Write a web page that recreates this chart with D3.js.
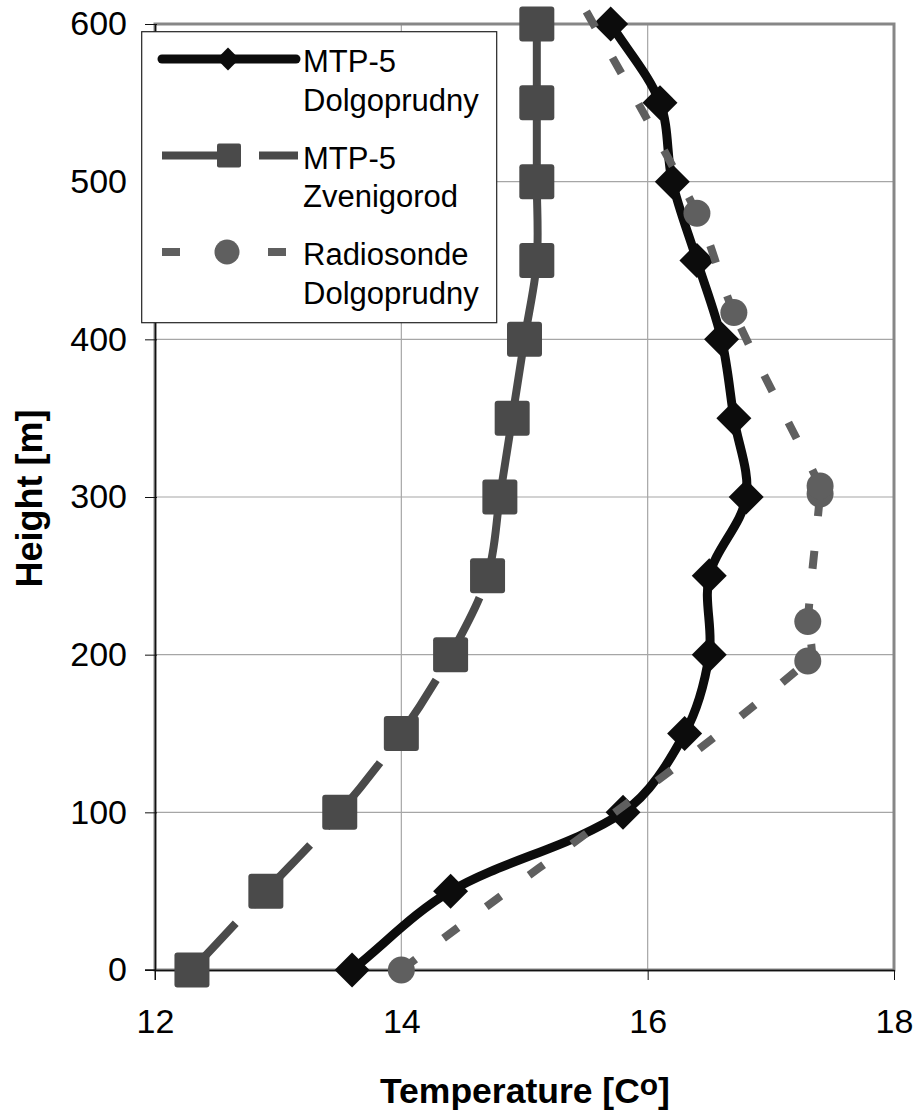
<!DOCTYPE html>
<html>
<head>
<meta charset="utf-8">
<script src="https://cdn.jsdelivr.net/npm/d3@7"></script>
<style>
  body { margin: 0; background: #fff; }
  svg text { font-family: "Liberation Sans", Arial, sans-serif; fill: #000; }
</style>
</head>
<body>
<div id="chart"></div>
<script>
// heights of the MTP-5 profiles [m]
const heights = [0, 50, 100, 150, 200, 250, 300, 350, 400, 450, 500, 550, 600];
// MTP-5 Dolgoprudny temperature [C]
const dolgoTemp = [13.6, 14.4, 15.8, 16.3, 16.5, 16.5, 16.8, 16.7, 16.6, 16.4, 16.2, 16.1, 15.7];
// MTP-5 Zvenigorod temperature [C]
const zvenTemp = [12.3, 12.9, 13.5, 14.0, 14.4, 14.7, 14.8, 14.9, 15.0, 15.1, 15.1, 15.1, 15.1];
// radiosonde Dolgoprudny (own levels)
const radioHeight = [0, 196, 221, 302, 307, 417, 480, 650];
const radioTemp = [14.0, 17.3, 17.3, 17.4, 17.4, 16.7, 16.4, 15.2];

const xTicks = [12, 14, 16, 18];
const yTicks = [0, 100, 200, 300, 400, 500, 600];
const legendNames = [["MTP-5", "Dolgoprudny"], ["MTP-5", "Zvenigorod"], ["Radiosonde", "Dolgoprudny"]];

const W = 917, H = 1116;
const margin = {top: 24, right: 23, bottom: 146, left: 155};
const width = W - margin.left - margin.right,
      height = H - margin.top - margin.bottom;

const svg = d3.select("#chart")
  .append("svg")
    .attr("width", W)
    .attr("height", H);

const g = svg.append("g")
    .attr("transform", `translate(${margin.left}, ${margin.top})`);

const x = d3.scaleLinear().domain([12, 18]).range([0, width]);
const y = d3.scaleLinear().domain([0, 600]).range([height, 0]);

// grid lines
g.append("g")
  .selectAll("line")
  .data(xTicks.slice(1, -1))
  .join("line")
    .attr("x1", d => x(d)).attr("x2", d => x(d))
    .attr("y1", 0).attr("y2", height)
    .attr("stroke", "#a6a6a6").attr("stroke-width", 1.2);

g.append("g")
  .selectAll("line")
  .data(yTicks.slice(1, -1))
  .join("line")
    .attr("x1", 0).attr("x2", width)
    .attr("y1", d => y(d)).attr("y2", d => y(d))
    .attr("stroke", "#a6a6a6").attr("stroke-width", 1.2);

// plot area frame
g.append("rect")
  .attr("width", width).attr("height", height)
  .attr("fill", "none")
  .attr("stroke", "#878787")
  .attr("stroke-width", 3);

// axes
const yAxis = g.append("g")
  .call(d3.axisLeft(y).tickValues(yTicks).tickFormat(d3.format("d"))
    .tickSize(10).tickSizeOuter(0).tickPadding(18));
yAxis.select(".domain").attr("stroke", "#111").attr("stroke-width", 1.5);
yAxis.selectAll(".tick line").attr("x2", -10).attr("x1", 2).attr("stroke", "#111");
yAxis.selectAll(".tick text").style("font-size", "34px");

const xAxis = g.append("g")
  .attr("transform", `translate(0, ${height})`)
  .call(d3.axisBottom(x).tickValues(xTicks).tickFormat(d3.format("d"))
    .tickSize(10).tickSizeOuter(0).tickPadding(29));
xAxis.select(".domain").attr("stroke", "#111").attr("stroke-width", 1.5);
xAxis.selectAll(".tick line").attr("stroke", "#111");
xAxis.selectAll(".tick text").style("font-size", "34px");
// the y axis line runs down to the tick row, the x axis left to the y ticks
g.append("line").attr("x1", 0).attr("x2", 0).attr("y1", height).attr("y2", height + 10).attr("stroke", "#111");
g.append("line").attr("x1", -10).attr("x2", 0).attr("y1", height).attr("y2", height).attr("stroke", "#111").attr("stroke-width", 1.5);

// smooth (Excel-like) curve, one path per segment so dashes restart at each point;
// tangents are scaled by chord length so short segments do not overshoot
function segments(pts) {
  const dist = (a, b) => Math.hypot(b[0] - a[0], b[1] - a[1]);
  const out = [];
  for (let i = 0; i < pts.length - 1; i++) {
    const p0 = pts[i - 1] || pts[i], p1 = pts[i], p2 = pts[i + 1], p3 = pts[i + 2] || pts[i + 1];
    const d01 = dist(p0, p1), d12 = dist(p1, p2), d23 = dist(p2, p3);
    const k1 = d12 / ((d01 + d12) || 1) / 3;
    const k2 = d12 / ((d12 + d23) || 1) / 3;
    const p = d3.path();
    p.moveTo(p1[0], p1[1]);
    p.bezierCurveTo(
      p1[0] + (p2[0] - p0[0]) * k1, p1[1] + (p2[1] - p0[1]) * k1,
      p2[0] - (p3[0] - p1[0]) * k2, p2[1] - (p3[1] - p1[1]) * k2,
      p2[0], p2[1]);
    out.push(p.toString());
  }
  return out;
}

const dolgoPts = heights.map((h, i) => [x(dolgoTemp[i]), y(h)]);
const zvenPts = heights.map((h, i) => [x(zvenTemp[i]), y(h)]);
const radioPts = radioHeight.map((h, i) => [x(radioTemp[i]), y(h)]);

// MTP-5 Dolgoprudny
g.append("path")
  .attr("d", segments(dolgoPts).join(""))
  .attr("fill", "none")
  .attr("stroke", "#0c0c0c")
  .attr("stroke-width", 9)
  .attr("stroke-linejoin", "round");

g.append("g")
  .selectAll("path")
  .data(dolgoPts)
  .join("path")
    .attr("d", d3.symbol(d3.symbolSquare, 612)())
    .attr("transform", d => `translate(${d[0]}, ${d[1]}) rotate(45)`)
    .attr("fill", "#0c0c0c");

// MTP-5 Zvenigorod
g.append("g")
  .selectAll("path")
  .data(segments(zvenPts))
  .join("path")
    .attr("d", d => d)
    .attr("fill", "none")
    .attr("stroke", "#4a4a4a")
    .attr("stroke-width", 8)
    .attr("stroke-dasharray", "64,24");

g.append("g")
  .selectAll("rect")
  .data(zvenPts)
  .join("rect")
    .attr("x", d => d[0] - 17.5)
    .attr("y", d => d[1] - 17.5)
    .attr("width", 35).attr("height", 35)
    .attr("rx", 3)
    .attr("fill", "#4a4a4a");

// Radiosonde Dolgoprudny
g.append("g")
  .selectAll("path")
  .data(segments(radioPts))
  .join("path")
    .attr("d", d => d)
    .attr("fill", "none")
    .attr("stroke", "#5f5f5f")
    .attr("stroke-width", 8)
    .attr("stroke-dasharray", "18,35");

g.append("g")
  .selectAll("circle")
  .data(radioPts)
  .join("circle")
    .attr("cx", d => d[0])
    .attr("cy", d => d[1])
    .attr("r", 13.5)
    .attr("fill", "#5f5f5f");

// legend
const legend = svg.append("g");
legend.append("rect")
  .attr("x", 141.7).attr("y", 31.7)
  .attr("width", 355).attr("height", 291)
  .attr("fill", "#fff")
  .attr("stroke", "#222")
  .attr("stroke-width", 1.2);

const rowY = [59, 155.5, 252];

// line samples
legend.append("line")
  .attr("x1", 162).attr("x2", 296).attr("y1", rowY[0]).attr("y2", rowY[0])
  .attr("stroke", "#0c0c0c").attr("stroke-width", 9).attr("stroke-linecap", "round");
legend.append("path")
  .attr("d", d3.symbol(d3.symbolSquare, 260)())
  .attr("transform", `translate(228, ${rowY[0]}) rotate(45)`)
  .attr("fill", "#0c0c0c");

legend.append("line")
  .attr("x1", 162).attr("x2", 298).attr("y1", rowY[1]).attr("y2", rowY[1])
  .attr("stroke", "#4a4a4a").attr("stroke-width", 8).attr("stroke-dasharray", "75,22");
legend.append("rect")
  .attr("x", 217).attr("y", rowY[1] - 12).attr("width", 24).attr("height", 24).attr("rx", 2)
  .attr("fill", "#4a4a4a");

legend.append("line")
  .attr("x1", 162).attr("x2", 298).attr("y1", rowY[2]).attr("y2", rowY[2])
  .attr("stroke", "#5f5f5f").attr("stroke-width", 8).attr("stroke-dasharray", "18,35");
legend.append("circle")
  .attr("cx", 227).attr("cy", rowY[2]).attr("r", 12.5)
  .attr("fill", "#5f5f5f");

legendNames.forEach((lines, i) => {
  const t = legend.append("text")
    .attr("x", 303)
    .attr("y", rowY[i] + 13)
    .style("font-size", "31px");
  t.append("tspan").attr("x", 303).text(lines[0]);
  t.append("tspan").attr("x", 303).attr("dy", 38.5).text(lines[1]);
});

// axis titles
svg.append("text")
  .attr("transform", "translate(42, 498.5) rotate(-90)")
  .style("text-anchor", "middle")
  .style("font-size", "36px")
  .style("font-weight", "bold")
  .text("Height [m]");

const xt = svg.append("text")
  .attr("x", 525)
  .attr("y", 1103)
  .style("text-anchor", "middle")
  .style("font-size", "35.5px")
  .style("font-weight", "bold");
xt.append("tspan").text("Temperature [C");
xt.append("tspan").attr("dy", -8).style("font-size", "30px").text("o");
xt.append("tspan").attr("dy", 8).text("]");
</script>
</body>
</html>
